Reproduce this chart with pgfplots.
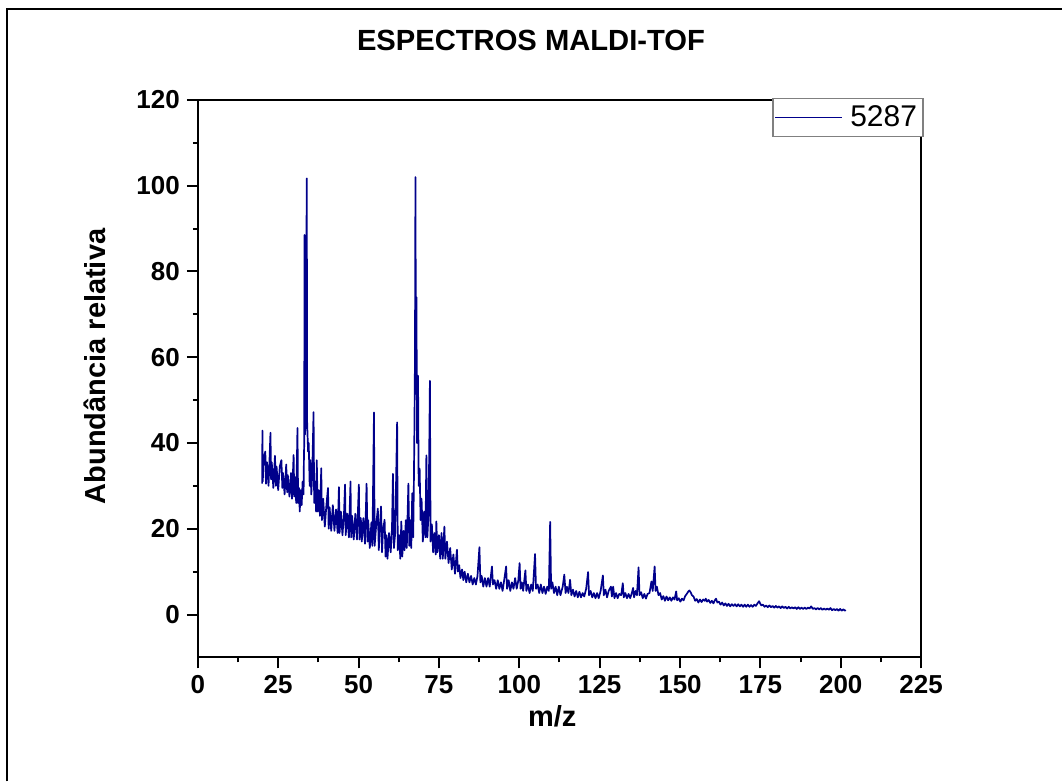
\documentclass[border=0pt]{standalone}
\usepackage{pgfplots}
\pgfplotsset{compat=1.18}
\usepackage{fontspec}
\setmainfont{Liberation Sans}
\definecolor{spec}{RGB}{0,0,139}
\begin{document}
\begin{tikzpicture}
\begin{axis}[
  scale only axis, width=362pt, height=279pt,
  xmin=0, xmax=225, ymin=-10, ymax=120,
  xtick={0,25,...,225}, ytick={0,20,...,120},
  minor x tick num=1, minor y tick num=1,
  tick align=outside, tick pos=left,
  major tick length=5.5pt, minor tick length=2.5pt,
  every tick/.style={black, line width=1pt},
  axis line style={line width=1pt},
  /pgf/number format/assume math mode=true,
  ticklabel style={font=\bfseries\fontsize{13}{15}\selectfont},
  title={ESPECTROS MALDI-TOF},
  title style={at={(axis description cs:0.4606,1.086)}, anchor=center, font=\bfseries\fontsize{14.6}{17}\selectfont},
  xlabel={m/z},
  xlabel style={at={(axis description cs:0.49,-0.106)}, anchor=center, font=\bfseries\fontsize{14.5}{17}\selectfont},
  ylabel={Abundância relativa},
  ylabel style={at={(axis description cs:-0.142,0.522)}, anchor=center, font=\bfseries\fontsize{14.5}{17}\selectfont},
  legend style={at={(rel axis cs:1,1)}, anchor=north east, xshift=1.2pt, yshift=1pt, draw=gray, line width=0.6pt, inner xsep=1pt, inner ysep=1.5pt, font=\fontsize{15}{18}\selectfont, fill=white},
  legend image code/.code={\draw[#1, line width=0.5pt] (0pt,0pt) -- (33.5pt,0pt); \path (35pt,0pt);},
]
\addplot[color=spec, line width=0.85pt, line join=round] coordinates {
(20.0,30.5) (20.1,42.9) (20.2,31) (20.5,36.5) (21.0,38) (21.2,30.5) (21.5,35.5) (22.0,30) (22.3,36) (22.6,42.4) (22.8,31.5) (23.0,35.5) (23.5,29.5) (24.0,37) (24.3,30) (24.5,34.5) (25.0,29) (25.5,34.5) (26.0,36) (26.3,29.5) (26.5,33) (27.0,28) (27.5,35) (27.8,28.5) (28.0,32.5) (28.5,27.5) (29.0,33) (29.3,27) (29.8,37.2) (30.0,27.5) (30.3,32) (30.6,26) (31.0,43.5) (31.2,26) (31.5,29.5) (31.7,24) (32.0,29) (32.3,25.5) (32.6,31) (32.9,28) (33.0,36)
(33.1,40) (33.2,88.5) (33.35,42) (33.5,45) (33.9,101.7) (34.0,45) (34.3,38) (34.5,40) (34.8,30) (35.0,36) (35.3,28) (35.6,33) (36.0,47.2) (36.2,26) (36.5,31) (36.8,24) (37.0,36) (37.3,24) (37.6,29) (38.0,23) (38.4,34.1) (38.6,22) (39.0,27) (39.5,20.5) (40.0,25.5) (40.5,29.5) (40.7,20) (41.0,25) (41.5,19.5) (42.0,25.5) (42.5,19.5) (43.0,24.5) (43.5,19) (43.9,29.7) (44.1,19) (44.5,24) (45.0,18.5) (45.5,24) (45.8,30.3) (46.0,18.5) (46.5,23.5) (47.0,18) (47.5,31.0) (47.7,18) (48.0,23) (48.5,17.5) (49.0,23.5) (49.5,17.5) (50.1,30.3) (50.3,17.5) (50.7,22.5) (51.0,17) (51.5,22.5) (52.0,16.5) (52.5,30.5) (52.8,17) (53.0,22) (53.5,15.5) (54.0,21.5) (54.3,16) (54.8,47.1) (55.0,16) (55.5,21) (56.0,24.7) (56.3,15) (56.6,20) (57.0,25.2) (57.3,14.5) (57.6,19.5) (58.1,22.1) (58.4,13.5) (58.7,18.5) (59.0,13) (59.5,19) (60.0,14.5) (60.4,20) (60.7,32.8) (61.0,15.5) (61.4,19) (62.0,44.8) (62.2,15) (62.6,18.5) (63.0,13) (63.3,21.7) (63.6,13.5) (64.0,19.5) (64.3,15) (64.7,22) (65.0,15.5) (65.5,30.5) (65.8,16) (66.2,22) (66.4,15.5) (66.7,28.3) (67.0,18) (67.2,30) (67.4,45) (67.55,60) (67.7,102.0) (67.85,55) (68.0,74) (68.2,40) (68.5,55.7) (68.7,30) (69.0,34) (69.3,22) (69.6,27) (70.0,17) (70.4,24) (70.8,18) (71.1,37.1) (71.4,18) (71.8,24) (72.2,54.5) (72.4,17) (72.8,21) (73.2,14.5) (73.6,19) (74.0,14) (74.2,21.7) (74.5,14.5) (75.0,18.5) (75.4,13) (75.8,19) (76.2,13) (76.7,20.5) (77.0,13) (77.5,17) (78.0,12) (78.5,15.5) (79.0,10.5) (79.5,14) (80.0,9.5) (80.6,15.1) (80.9,10) (81.3,11.5) (81.7,8.5) (82.2,10.5) (82.6,8) (83.0,10) (83.5,7.5) (84.0,9.5) (84.5,7.5) (85.0,9) (85.5,7) (86.0,8.5) (86.5,7) (87.0,9) (87.6,15.7) (87.9,7.5) (88.3,9) (88.8,6.5) (89.3,8.5) (89.8,6.5) (90.3,8.5) (90.8,6.5) (91.5,11.2) (91.8,7) (92.3,8) (92.8,6) (93.3,8) (93.8,6) (94.3,7.5) (94.8,5.5) (95.3,8) (95.9,11.2) (96.2,6) (96.7,8) (97.2,5.5) (97.7,7.5) (98.2,6) (98.7,8.5) (99.2,6) (99.7,8) (100.1,12.0) (100.4,6) (100.8,7.5) (101.2,5.5) (101.9,10.3) (102.2,5.5) (102.7,7) (103.2,5) (103.7,7) (104.2,5.5) (104.9,14.1) (105.2,6) (105.7,7) (106.2,5) (106.7,7) (107.2,5) (107.7,6.5) (108.2,4.8) (108.7,6.5) (109.2,5.5) (109.6,21.6) (109.9,6) (110.3,7.5) (110.8,5) (111.3,6.5) (111.8,4.5) (112.3,6.5) (112.8,4.5) (113.5,6.5) (114.0,9.3) (114.4,5) (114.8,6.5) (115.3,5) (115.8,8.1) (116.2,4.5) (116.7,5.8) (117.2,4.2) (117.7,5.5) (118.2,4) (118.7,5.3) (119.2,4) (119.7,5) (120.2,4.2) (120.8,6) (121.4,9.9) (121.7,4.5) (122.2,5.5) (122.7,4) (123.2,5) (123.7,3.8) (124.2,5) (124.7,3.8) (125.3,5.5) (126.0,9.1) (126.3,4.5) (126.8,5.8) (127.3,4) (127.8,5.5) (128.5,6.5) (128.8,4.2) (129.2,6.5) (129.6,3.8) (130.1,5) (130.6,3.8) (131.1,4.8) (131.7,4.5) (132.2,7.3) (132.5,4) (133.0,5) (133.5,3.8) (134.0,4.8) (134.5,3.8) (135.0,5) (135.4,6.2) (135.7,4) (136.2,5.5) (136.6,4.5) (137.1,11.0) (137.4,4.5) (137.9,5.2) (138.4,3.8) (138.9,4.8) (139.4,3.7) (139.9,4.8) (140.5,5) (141.1,7.7) (141.5,5.5) (142.1,11.2) (142.4,5.5) (142.8,6.5) (143.3,4.5) (143.8,5) (144.3,3.5) (144.8,4.3) (145.3,3.2) (145.8,4.2) (146.3,3.3) (146.8,4) (147.3,3.2) (147.8,4) (148.3,3.5) (148.8,5.4) (149.1,3.3) (149.6,3.8) (150.1,3) (150.6,3.7) (151.1,3.3) (151.6,4.3) (152.1,4.8) (152.6,5.4) (152.9,5.6) (153.3,5.2) (153.7,4.5) (154.2,4.2) (154.7,3.2) (155.2,3.6) (155.7,2.8) (156.2,3.5) (156.7,2.9) (157.2,3.5) (157.7,3.2) (158.0,3.7) (158.4,3.0) (158.9,3.4) (159.4,2.7) (159.9,3.2) (160.4,2.6) (160.8,3.3) (161.2,3.7) (161.6,2.8) (162.1,3) (162.6,2.3) (163.1,2.8) (163.6,2.1) (164.1,2.6) (164.6,2.0) (165.1,2.5) (165.6,1.9) (166.1,2.4) (166.6,2.0) (167.1,2.4) (167.6,1.9) (168.1,2.4) (168.6,1.9) (169.1,2.3) (169.6,1.8) (170.1,2.3) (170.6,1.8) (171.1,2.3) (171.6,1.8) (172.1,2.2) (172.6,1.8) (173.1,2.3) (173.6,2) (174.1,2.6) (174.6,3.1) (174.9,2.6) (175.3,2.1) (175.8,2.3) (176.3,1.8) (176.8,2.1) (177.3,1.7) (177.8,2.1) (178.3,1.7) (178.8,2.0) (179.3,1.6) (179.8,2.0) (180.3,1.6) (180.8,1.9) (181.3,1.5) (181.8,1.9) (182.3,1.5) (182.8,1.8) (183.3,1.4) (183.8,1.8) (184.3,1.4) (184.8,1.7) (185.3,1.4) (185.8,1.7) (186.3,1.3) (186.8,1.7) (187.3,1.3) (187.8,1.6) (188.3,1.3) (188.8,1.6) (189.3,1.3) (189.8,1.6) (190.3,1.4) (190.8,1.9) (191.3,1.3) (191.8,1.5) (192.3,1.2) (192.8,1.5) (193.3,1.2) (193.8,1.5) (194.3,1.1) (194.8,1.4) (195.3,1.1) (195.8,1.4) (196.3,1.1) (196.8,1.5) (197.3,1.0) (197.8,1.3) (198.3,1.0) (198.8,1.3) (199.3,0.9) (199.8,1.3) (200.3,0.9) (200.8,1.2) (201.3,0.9) (201.5,1.1)
};
\addlegendentry{5287}
\end{axis}
\draw[line width=1pt] (-95.5pt,-62pt) -- (-95.5pt,324.5pt) -- (432.5pt,324.5pt);
\path (-99pt,-62pt) rectangle (432.5pt,329pt);
\end{tikzpicture}
\end{document}
